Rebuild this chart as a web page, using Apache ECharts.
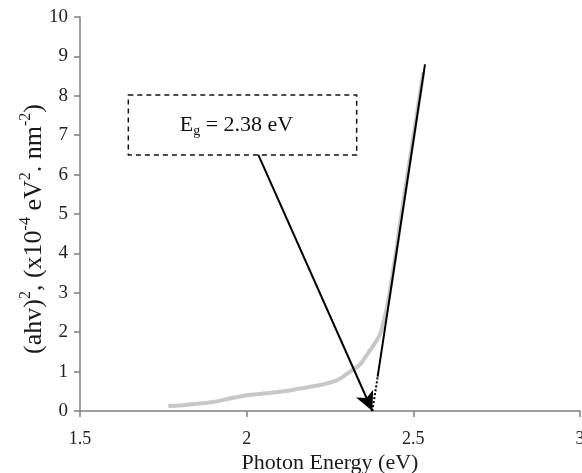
<!DOCTYPE html>
<html>
<head>
<meta charset="utf-8">
<script src="https://cdn.jsdelivr.net/npm/echarts@6/dist/echarts.min.js"></script>
<style>
  html, body { margin: 0; padding: 0; background: #fff; }
  #chart { width: 582px; height: 473px; }
</style>
</head>
<body>
<div id="chart"></div>
<script>
// measured curve (ahv)^2 vs photon energy
var energy = [1.765, 1.80, 1.86, 1.90, 1.94, 1.98, 2.01, 2.06, 2.11, 2.16, 2.21, 2.25, 2.28, 2.31, 2.34,
              2.36, 2.38, 2.40, 2.41, 2.42, 2.43, 2.44, 2.45, 2.46, 2.47, 2.48, 2.49, 2.50, 2.51, 2.52, 2.53];
var absorb = [0.13, 0.14, 0.19, 0.23, 0.30, 0.37, 0.41, 0.45, 0.50, 0.57, 0.64, 0.72, 0.82, 1.00, 1.18,
              1.42, 1.66, 1.95, 2.25, 2.60, 3.05, 3.60, 4.15, 4.75, 5.30, 5.85, 6.40, 6.95, 7.50, 8.05, 8.60];

// tangent line (extrapolated part dotted)
var tangentDotted = [[2.377, 0], [2.393, 0.87]];
var tangentSolid = [[2.393, 0.87], [2.535, 8.8]];

// annotation box and arrow
var boxCorners = [[1.645, 8.02], [2.33, 6.5]];
var arrowFrom = [2.035, 6.5];
var arrowTo = [2.377, 0];
var gapLabel = 'E{sub|g} = 2.38 eV';

var serif = 'Liberation Serif';

var chart = echarts.init(document.getElementById('chart'));

var curve = [];
for (var i = 0; i < energy.length; i++) {
    curve.push([energy[i], absorb[i]]);
}

var option = {
    animation: false,
    backgroundColor: '#fff',
    grid: { left: 80, right: 2, top: 17, bottom: 62, outerBoundsMode: 'none' },
    xAxis: {
        type: 'value',
        min: 1.5, max: 3, interval: 0.5,
        name: 'Photon Energy (eV)',
        nameLocation: 'middle',
        nameGap: 41,
        nameMoveOverlap: false,
        nameTextStyle: { fontFamily: serif, fontSize: 22, color: '#1a1a1a' },
        axisLine: { show: true, onZero: false, lineStyle: { color: '#808080', width: 1.5 } },
        axisTick: { show: true, inside: false, length: 6, lineStyle: { color: '#808080', width: 1.5 } },
        axisLabel: { fontFamily: serif, fontSize: 18, color: '#222', margin: 19 },
        splitLine: { show: false }
    },
    yAxis: {
        type: 'value',
        min: 0, max: 10, interval: 1,
        name: '(ahv){sup|2}, (x10{sup|-4} eV{sup|2}. nm{sup|-2})',
        nameLocation: 'middle',
        nameRotate: 90,
        nameGap: 30,
        nameMoveOverlap: false,
        nameTextStyle: {
            fontFamily: serif, fontSize: 26, color: '#1a1a1a', lineHeight: 32,
            padding: [0, 30, 0, 0],
            rich: {
                sup: { fontFamily: serif, fontSize: 16, color: '#1a1a1a', verticalAlign: 'top', lineHeight: 17 }
            }
        },
        axisLine: { show: true, lineStyle: { color: '#808080', width: 1.5 } },
        axisTick: { show: true, inside: false, length: 6, lineStyle: { color: '#808080', width: 1.5 } },
        axisLabel: { fontFamily: serif, fontSize: 19, color: '#222', margin: 12 },
        splitLine: { show: false }
    },
    series: [
        {
            name: 'data',
            type: 'line',
            data: curve,
            showSymbol: false,
            smooth: 0.3,
            lineStyle: { color: '#c8c8c8', width: 4 },
            z: 1
        },
        {
            name: 'tangent dotted',
            type: 'line',
            data: tangentDotted,
            showSymbol: false,
            lineStyle: { color: '#000', width: 2, type: [2, 2] },
            z: 3
        },
        {
            name: 'tangent',
            type: 'line',
            data: tangentSolid,
            showSymbol: false,
            lineStyle: { color: '#000', width: 2 },
            z: 3,
            markArea: {
                silent: true,
                itemStyle: { color: 'rgba(0,0,0,0)', borderColor: '#111', borderWidth: 1.5, borderType: [5, 4] },
                label: {
                    show: true,
                    position: 'inside',
                    formatter: gapLabel,
                    fontFamily: serif, fontSize: 22, color: '#111',
                    lineHeight: 26,
                    padding: [0, 12, 0, 0],
                    rich: {
                        sub: { fontFamily: serif, fontSize: 14, color: '#111', verticalAlign: 'bottom', lineHeight: 14, padding: [8, 0, 0, 0] }
                    }
                },
                data: [[{ coord: boxCorners[0] }, { coord: boxCorners[1] }]]
            },
            markLine: {
                silent: true,
                symbol: ['none', 'arrow'],
                symbolSize: [14, 19],
                lineStyle: { color: '#000', width: 2, type: 'solid' },
                label: { show: false },
                data: [[{ coord: arrowFrom }, { coord: arrowTo }]]
            }
        }
    ]
};

chart.setOption(option);
</script>
</body>
</html>
